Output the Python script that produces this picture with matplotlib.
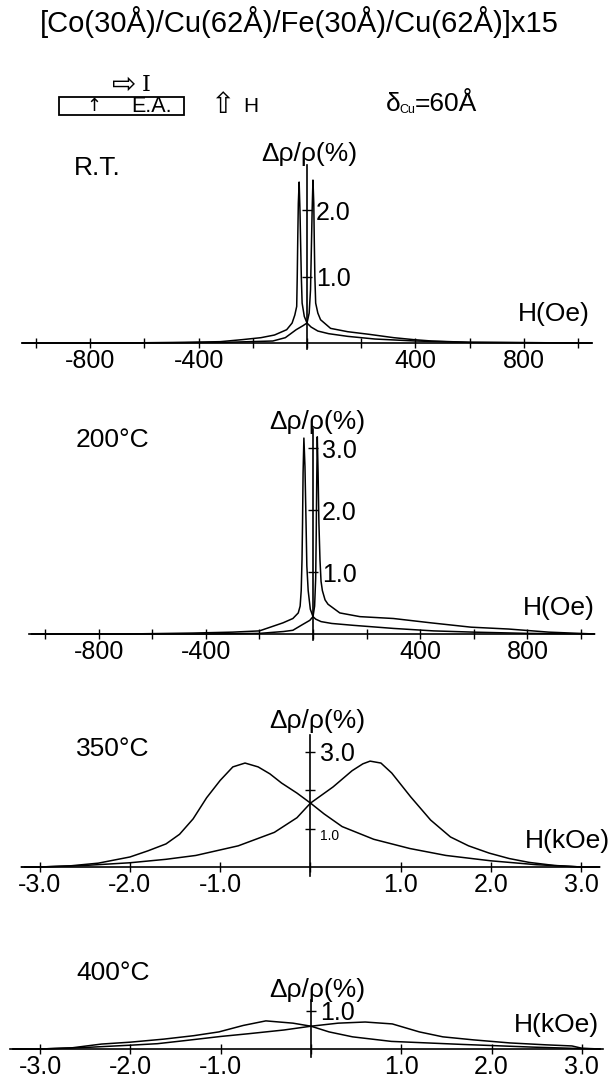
import numpy as np
import matplotlib
matplotlib.use("Agg")
import matplotlib.pyplot as plt
from matplotlib.patches import Rectangle

plt.rcParams['font.family'] = ['Liberation Sans', 'DejaVu Sans']

W, H = 614, 1083

# ---- data ----
# R.T., field in Oe; "dn" = sweep from + to - (peak on negative side), "up" = reverse sweep
rt_H_dn = [1050, 800, 600, 400, 250, 150, 80, 40, 15, 0, -10, -18, -21, -24, -26, -29, -32, -34, -36, -38,
           -45, -55, -75, -120, -170, -240, -320, -450, -700, -1050]
rt_R_dn = [0.0, 0.005, 0.01, 0.03, 0.06, 0.1, 0.14, 0.18, 0.24, 0.30, 0.4, 0.6, 1.0, 1.6, 2.0, 2.42, 2.1, 1.6, 1.0, 0.55,
           0.42, 0.3, 0.2, 0.12, 0.08, 0.05, 0.02, 0.01, 0.0, 0.0]
rt_H_up = [-1050, -600, -300, -126, -80, -40, -15, 0, 8, 13, 16, 19, 22, 25, 27, 29, 32, 40, 50, 87, 150,
           230, 320, 395, 460, 600, 1050]
rt_R_up = [0.0, 0.0, 0.01, 0.03, 0.08, 0.2, 0.26, 0.30, 0.45, 0.8, 1.4, 2.0, 2.45, 2.1, 1.5, 1.0, 0.6, 0.45, 0.35, 0.22, 0.17,
           0.13, 0.08, 0.05, 0.03, 0.01, 0.0]

# 200 C, field in Oe
t200_H_dn = [1050, 800, 600, 450, 300, 150, 70, 30, 10, 0, -10, -18, -23, -26, -30, -34, -37, -39, -41, -44,
             -48, -55, -75, -112, -200, -300, -450, -700, -1050]
t200_R_dn = [0.0, 0.01, 0.03, 0.05, 0.09, 0.14, 0.17, 0.2, 0.24, 0.28, 0.4, 0.7, 1.1, 1.8, 2.7, 3.16, 2.6, 1.8, 1.2, 0.7,
             0.45, 0.34, 0.25, 0.18, 0.05, 0.03, 0.015, 0.0, 0.0]
t200_H_up = [-1050, -400, -200, -110, -75, -40, -12, 0, 6, 10, 12, 14, 16, 19, 22, 26, 30, 35, 45, 56, 100,
             175, 300, 440, 590, 730, 880, 1050]
t200_R_up = [0.0, 0.0, 0.01, 0.04, 0.06, 0.15, 0.22, 0.28, 0.45, 0.9, 1.6, 2.5, 3.18, 2.6, 1.8, 1.2, 0.85, 0.7, 0.55, 0.48, 0.34,
             0.28, 0.25, 0.18, 0.11, 0.08, 0.03, 0.0]

# 350 C, field in kOe
t350_H_dn = [3.2, 3.0, 2.5, 2.0, 1.5, 1.1, 0.7, 0.35, 0.15, 0.0, -0.15, -0.32, -0.45, -0.58, -0.725, -0.86, -1.0,
             -1.15, -1.3, -1.45, -1.6, -1.8, -2.0, -2.35, -2.66, -3.0, -3.2]
t350_R_dn = [0.0, 0.0, 0.06, 0.16, 0.3, 0.48, 0.72, 1.05, 1.38, 1.66, 1.92, 2.18, 2.42, 2.6, 2.70, 2.6, 2.25,
             1.8, 1.25, 0.85, 0.6, 0.42, 0.26, 0.1, 0.03, 0.0, 0.0]
t350_H_up = [-3.2, -3.0, -2.5, -2.0, -1.6, -1.27, -0.8, -0.4, -0.15, 0.0, 0.25, 0.46, 0.58, 0.66, 0.78, 0.9, 1.11,
             1.33, 1.55, 1.75, 1.98, 2.2, 2.42, 2.7, 3.0, 3.2]
t350_R_up = [0.0, 0.0, 0.04, 0.11, 0.2, 0.3, 0.55, 0.9, 1.28, 1.66, 2.08, 2.5, 2.68, 2.75, 2.7, 2.44, 1.82,
             1.22, 0.78, 0.55, 0.36, 0.22, 0.12, 0.04, 0.0, 0.0]

# 400 C, field in kOe
t400_H_dn = [3.2, 3.0, 2.45, 1.68, 0.89, 0.46, 0.2, 0.0, -0.2, -0.5, -0.75, -1.02, -1.3, -1.63, -2.0, -2.32, -2.65, -3.0, -3.3]
t400_R_dn = [0.0, 0.01, 0.05, 0.12, 0.2, 0.32, 0.45, 0.6, 0.68, 0.74, 0.62, 0.45, 0.35, 0.26, 0.18, 0.13, 0.03, 0.0, 0.0]
t400_H_up = [-3.3, -3.0, -2.5, -2.0, -1.7, -1.4, -1.0, -0.7, -0.3, 0.0, 0.3, 0.6, 0.9, 1.2, 1.46, 1.8, 2.2, 2.6, 2.89, 3.0, 3.2]
t400_R_up = [0.0, 0.0, 0.04, 0.1, 0.14, 0.22, 0.33, 0.4, 0.5, 0.6, 0.68, 0.71, 0.66, 0.45, 0.32, 0.24, 0.16, 0.11, 0.08, 0.02, 0.0]

oe_ticks = [-1000, -800, -600, -400, -200, 0, 200, 400, 600, 800, 1000]
oe_labels = ['', '-800', '', '-400', '', '', '', '400', '', '800', '']
koe_ticks = [-3, -2, -1, 0, 1, 2, 3]
koe_labels = ['-3.0', '-2.0', '-1.0', '', '1.0', '2.0', '3.0']

fig = plt.figure(figsize=(W / 100, H / 100), dpi=100)


def ft(x, y, s, **kw):
    kw.setdefault('ha', 'center'); kw.setdefault('va', 'center')
    return fig.text(x / W, 1 - y / H, s, **kw)


def panel(x0, y0, sx, sy, xlim, ytop, yb_px=6):
    # x0,y0 = pixel position of the origin, sx,sy = pixels per data unit
    ylim = (-yb_px / sy, ytop)
    left = x0 + xlim[0] * sx
    bot = y0 - ylim[0] * sy
    ax = fig.add_axes([left / W, 1 - bot / H, (xlim[1] - xlim[0]) * sx / W, (ylim[1] - ylim[0]) * sy / H])
    ax.set_xlim(xlim); ax.set_ylim(ylim)
    ax.patch.set_visible(False)
    for s in ['top', 'left']:
        ax.spines[s].set_visible(False)
    ax.spines['bottom'].set_position(('data', 0)); ax.spines['bottom'].set_bounds(*xlim)
    ax.spines['right'].set_position(('data', 0)); ax.spines['right'].set_bounds(*ylim)
    for s in ['bottom', 'right']:
        ax.spines[s].set_linewidth(1.2)
    ax.xaxis.set_ticks_position('bottom'); ax.yaxis.set_ticks_position('right')
    ax.tick_params(direction='inout', length=7, width=1, labelsize=18)
    ax.tick_params(axis='x', pad=1)
    ax.tick_params(axis='y', pad=3)
    return ax


lw = 1.1
# R.T.
ax = panel(307, 343, 0.271, 66.5, (-1050, 1050), 2.68)
ax.plot(rt_H_dn, rt_R_dn, 'k', lw=lw, clip_on=False)
ax.plot(rt_H_up, rt_R_up, 'k', lw=lw, clip_on=False)
ax.set_xticks(oe_ticks, oe_labels)
ax.set_yticks([1, 2], ['1.0', '2.0'])

# 200 C
ax = panel(313, 634, 0.268, 62, (-1060, 1050), 3.3)
ax.plot(t200_H_dn, t200_R_dn, 'k', lw=lw, clip_on=False)
ax.plot(t200_H_up, t200_R_up, 'k', lw=lw, clip_on=False)
ax.set_xticks(oe_ticks, oe_labels)
ax.set_yticks([1, 2, 3], ['1.0', '2.0', '3.0'])

# 350 C
ax = panel(310.5, 867, 90.3, 38.5, (-3.16, 3.2), 3.43, yb_px=9)
ax.plot(t350_H_dn, t350_R_dn, 'k', lw=lw, clip_on=False)
ax.plot(t350_H_up, t350_R_up, 'k', lw=lw, clip_on=False)
ax.set_xticks(koe_ticks, koe_labels)
ax.set_yticks([1, 2, 3], ['1.0', '', '3.0'])
small = ax.yaxis.get_major_ticks()[0].label2
small.set_fontsize(10); small.set_va('top')

# 400 C
ax = panel(311, 1049, 90.3, 38, (-3.33, 3.23), 1.29, yb_px=8)
ax.plot(t400_H_dn, t400_R_dn, 'k', lw=lw, clip_on=False)
ax.plot(t400_H_up, t400_R_up, 'k', lw=lw, clip_on=False)
ax.set_xticks(koe_ticks, koe_labels)
ax.set_yticks([1], ['1.0'])

# panel texts
fs = 19
ft(97, 168, 'R.T.', fontsize=fs)
ft(309, 154, 'Δρ/ρ(%)', fontsize=fs)
ft(554, 314, 'H(Oe)', fontsize=fs)
ft(112, 440, '200°C', fontsize=fs)
ft(317, 422, 'Δρ/ρ(%)', fontsize=fs)
ft(559, 608, 'H(Oe)', fontsize=fs)
ft(113, 749, '350°C', fontsize=fs)
ft(317, 721, 'Δρ/ρ(%)', fontsize=fs)
ft(567, 841, 'H(kOe)', fontsize=fs)
ft(113, 973, '400°C', fontsize=fs)
ft(317, 990, 'Δρ/ρ(%)', fontsize=fs)
ft(556, 1025, 'H(kOe)', fontsize=fs)

# header
ft(299, 22, '[Co(30Å)/Cu(62Å)/Fe(30Å)/Cu(62Å)]x15', fontsize=21)
ft(124, 85, '⇨', fontsize=21, family=['DejaVu Sans'])
ft(146, 85, 'I', fontsize=16, family=['DejaVu Serif'])
fig.patches.append(Rectangle((59 / W, 1 - 115 / H), 125 / W, 18 / H, transform=fig.transFigure,
                             fill=False, ec='k', lw=1.3))
ft(94, 106, '↑', fontsize=13, family=['DejaVu Sans'])
ft(152, 106, 'E.A.', fontsize=15.5)
ft(222, 105, '⇧', fontsize=21, family=['DejaVu Sans'])
ft(251, 107, 'H', fontsize=15)
ft(386, 104, 'δ', fontsize=19, ha='left')
ft(399, 110, 'Cu', fontsize=9, ha='left')
ft(415, 104, '=60Å', fontsize=19, ha='left')

fig.savefig("out.png", dpi=100)
